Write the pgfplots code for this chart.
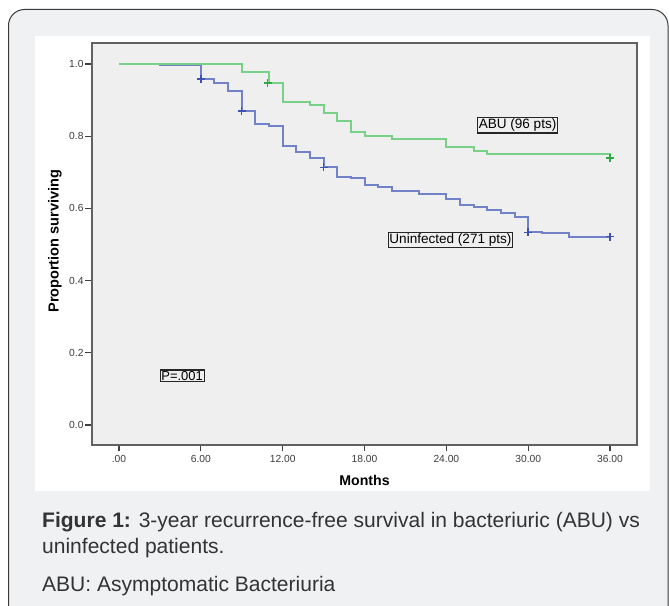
\documentclass[border=0pt]{standalone}
\usepackage{fontspec}
\setmainfont{Liberation Sans}
\usepackage{pgfplots}
\pgfplotsset{compat=1.18}

\definecolor{outerbg}{HTML}{F0F1F3}
\definecolor{framecol}{HTML}{3A3A3A}
\definecolor{plotbg}{HTML}{EFEFEF}
\definecolor{abuline}{HTML}{78D186}
\definecolor{abumark}{HTML}{2FAA42}
\definecolor{uniline}{HTML}{7182C8}
\definecolor{unimark}{HTML}{3D52B2}
\definecolor{ticktxt}{HTML}{3C3C3C}
\definecolor{captxt}{HTML}{333333}

% Kaplan-Meier steps (month, proportion)
\pgfplotstableread{
t     s
0     1.000
9     0.979
11    0.947
12    0.895
14    0.886
15    0.864
16    0.842
17    0.811
18    0.801
20    0.791
24    0.771
26    0.760
27    0.750
36    0.750
36    0.740
}\abu

\pgfplotstableread{
t     s
0     1.000
3     0.996
6     0.958
7     0.948
8     0.925
9     0.870
10    0.833
11    0.828
12    0.773
13    0.755
14    0.741
15    0.714
16    0.687
17    0.683
18    0.664
19    0.658
20    0.649
22    0.640
24    0.625
25    0.609
26    0.605
27    0.596
28    0.586
29    0.577
30    0.534
31    0.531
33    0.522
36    0.522
}\uninf

\begin{document}
\begin{tikzpicture}[x=1bp,y=1bp]
\useasboundingbox (0,0) rectangle (669,606);
\clip (0,0) rectangle (669,606);
\filldraw[fill=outerbg, draw=framecol, line width=1bp, rounded corners=16bp] (8.5,-30) rectangle (668,596.5);
\fill[white] (35,115) rectangle (650,570);

\begin{axis}[
    at={(91.7bp,161.1bp)}, anchor=south west,
    scale only axis,
    width=545.6bp, height=401.8bp,
    xmin=-2, xmax=38,
    ymin=-0.055, ymax=1.058,
    axis background/.style={fill=plotbg},
    axis line style={draw=black!62, line width=1.8bp},
    tick align=outside,
    xtick pos=left, ytick pos=left,
    major tick length=6.5bp,
    tick style={draw=black!75, line width=1.2bp},
    xtick={0,6,12,18,24,30,36},
    xticklabels={.00,6.00,12.00,18.00,24.00,30.00,36.00},
    ytick={0,0.2,0.4,0.6,0.8,1},
    yticklabels={0.0,0.2,0.4,0.6,0.8,1.0},
    tick label style={font=\fontsize{10.3}{12}\selectfont, text=ticktxt},
    yticklabel style={inner sep=1.5bp},
    xlabel={\textbf{Months}},
    ylabel={\textbf{Proportion surviving}},
    xlabel style={at={(axis description cs:0.5,-0.089)}, anchor=center, font=\fontsize{14.2}{16}\selectfont},
    ylabel style={at={(axis description cs:-0.0673,0.507)}, anchor=center, font=\fontsize{14.6}{16}\selectfont},
]
\addplot[const plot, draw=uniline, line width=2bp] table[x=t, y=s] {\uninf};
\addplot[const plot, draw=abuline, line width=2bp] table[x=t, y=s] {\abu};

% censoring marks
\addplot[only marks, mark=+, mark size=4bp, mark options={draw=unimark, line width=1.5bp}] coordinates {
  (6,0.958) (9,0.870) (15,0.714) (30,0.534) (36,0.522)
};
\addplot[only marks, mark=+, mark size=4bp, mark options={draw=abumark, line width=1.6bp}] coordinates {
  (10.9,0.947) (36,0.740)
};

\node[draw=black!85, line width=1.2bp, inner sep=1.3bp, font=\fontsize{13.6}{15}\selectfont] at (axis cs:29.22,0.830) {ABU (96 pts)};
\node[draw=black!85, line width=1.2bp, inner sep=1.3bp, font=\fontsize{13.6}{15}\selectfont] at (axis cs:24.30,0.513) {Uninfected (271 pts)};
\node[draw=black!85, line width=1.2bp, inner sep=1.3bp, font=\fontsize{13}{15}\selectfont] at (axis cs:4.63,0.136) {P=.001};
\end{axis}

\begin{scope}[every node/.style={anchor=base west, inner sep=0, text=captxt, font=\fontsize{21.1}{25}\selectfont}]
\node at (42,78.7) {\textbf{Figure 1:} 3-year recurrence-free survival in bacteriuric (ABU) vs};
\node at (42,52.7) {uninfected patients.};
\node at (42,14.3) {ABU: Asymptomatic Bacteriuria};
\end{scope}
\end{tikzpicture}
\end{document}
